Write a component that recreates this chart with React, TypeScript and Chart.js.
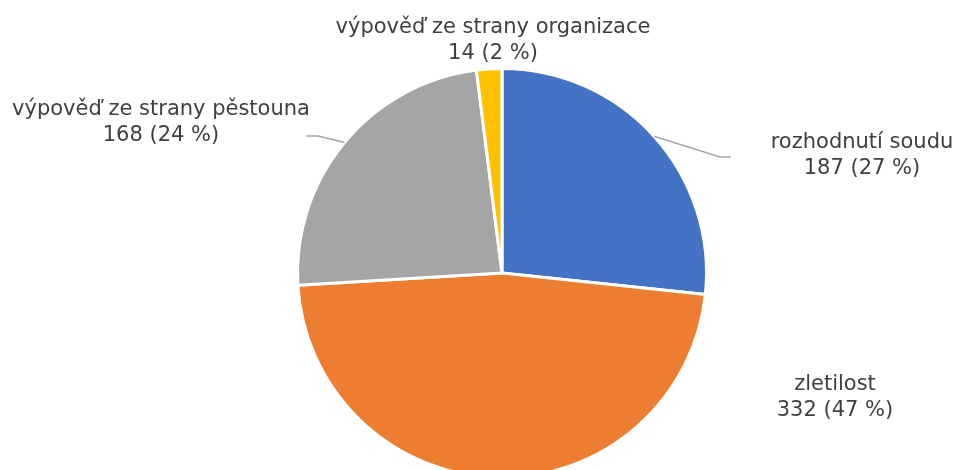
import React, { useEffect, useRef } from "react";
import { Chart, registerables } from "chart.js";

Chart.register(...registerables);

const categories = [
  "rozhodnutí soudu",
  "zletilost",
  "výpověď ze strany pěstouna",
  "výpověď ze strany organizace",
];
const values = [187, 332, 168, 14];
const percentLabels = ["27 %", "47 %", "24 %", "2 %"];
const colors = ["#4472C4", "#ED7D31", "#A5A5A5", "#FFC000"];

// label layout: text center x, first baseline y, optional leader elbow points
const labelLayout = [
  { x: 862, y: 148, leader: [[720, 157], [731, 157]] },
  { x: 835, y: 390, leader: null },
  { x: 161, y: 115, leader: [[318, 136], [306, 136]] },
  { x: 493, y: 33, leader: null },
];

const labelPlugin = {
  id: "pieLabels",
  afterDraw(chart: any) {
    const ctx = chart.ctx;
    const meta = chart.getDatasetMeta(0);
    ctx.save();
    ctx.font = "21px 'DejaVu Sans', Verdana, sans-serif";
    ctx.fillStyle = "#404040";
    ctx.textAlign = "center";
    ctx.textBaseline = "alphabetic";
    meta.data.forEach((arc: any, i: number) => {
      const p = arc.getProps(["x", "y", "startAngle", "endAngle", "outerRadius"], true);
      const mid = (p.startAngle + p.endAngle) / 2;
      const ex = p.x + Math.cos(mid) * p.outerRadius;
      const ey = p.y + Math.sin(mid) * p.outerRadius;
      const lay = labelLayout[i];
      if (lay.leader) {
        ctx.beginPath();
        ctx.strokeStyle = "#A6A6A6";
        ctx.lineWidth = 1.5;
        ctx.moveTo(ex, ey);
        lay.leader.forEach((pt) => ctx.lineTo(pt[0], pt[1]));
        ctx.stroke();
      }
      ctx.fillText(categories[i], lay.x, lay.y);
      ctx.fillText(`${values[i]} (${percentLabels[i]})`, lay.x, lay.y + 26);
    });
    ctx.restore();
  },
};

export default function App() {
  const ref = useRef<HTMLCanvasElement>(null);
  useEffect(() => {
    if (!ref.current) return;
    const chart = new Chart(ref.current, {
      type: "pie",
      data: {
        labels: categories,
        datasets: [
          {
            data: values,
            backgroundColor: colors,
            borderColor: "#FFFFFF",
            borderWidth: 3,
          },
        ],
      },
      options: {
        responsive: false,
        animation: false,
        devicePixelRatio: 1,
        layout: { padding: { top: 66, bottom: 10, left: 296, right: 249 } },
        plugins: {
          legend: { display: false },
          tooltip: { enabled: false },
        },
      },
      plugins: [labelPlugin],
    });
    return () => chart.destroy();
  }, []);
  return (
    <div
      style={{
        position: "absolute",
        left: 0,
        top: 0,
        width: 957,
        height: 470,
        overflow: "hidden",
        background: "#FFFFFF",
      }}
    >
      <canvas ref={ref} width={957} height={490} style={{ display: "block" }} />
    </div>
  );
}
